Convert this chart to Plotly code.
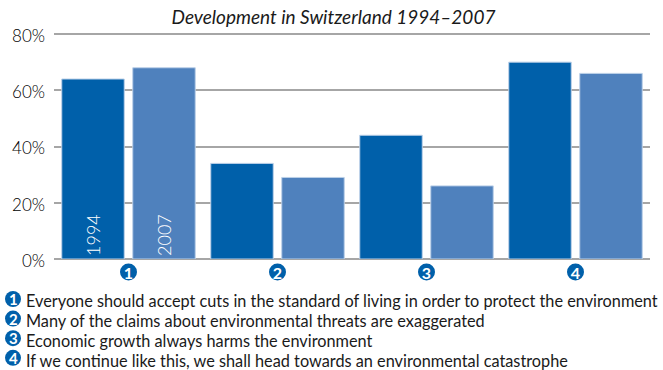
import plotly.graph_objects as go

categories = ["1", "2", "3", "4"]
series_1994 = [64, 34, 44, 70]
series_2007 = [68, 29, 26, 66]
labels_1994 = ["1994", "", "", ""]
labels_2007 = ["2007", "", "", ""]
y_ticks = [0, 20, 40, 60, 80]
y_labels = ["0%", "20%", "40%", "60%", "80%"]
title = "Development in Switzerland 1994–2007"
statements = [
    "Everyone should accept cuts in the standard of living in order to protect the environment",
    "Many of the claims about environmental threats are exaggerated",
    "Economic growth always harms the environment",
    "If we continue like this, we shall head towards an environmental catastrophe",
]

FONT = "Lato"
LIGHTFONT = "Lato Light, Lato"
DARK = "#0060AA"
LIGHT = "#4F81BD"
EDGE = "#BCD0E8"
INK = "#1a1a1a"
BLUE = "#0060AA"
W, H = 663, 370
L, T, PW, PH = 54, 33, 596, 226
BOTTOM = T + PH


def px(x):
    return (x - L) / PW


def py(y):
    return (BOTTOM - y) / PH


fig = go.Figure()
for vals, labs, col in ((series_1994, labels_1994, DARK), (series_2007, labels_2007, LIGHT)):
    fig.add_bar(
        x=categories, y=vals, text=labs,
        marker=dict(color=col, line=dict(color=EDGE, width=1)),
        textposition="inside", insidetextanchor="start", textangle=-90,
        constraintext="none",
        textfont=dict(family=LIGHTFONT, size=18, color="white"),
        hoverinfo="skip",
    )

fig.update_layout(
    width=W, height=H, autosize=False,
    margin=dict(l=L, r=W - L - PW, t=T, b=H - T - PH),
    paper_bgcolor="white", plot_bgcolor="white",
    barmode="group", bargap=0.047, bargroupgap=0.12,
    showlegend=False,
    font=dict(family=FONT, color=INK),
    title=dict(text=f"<i>{title}</i>", x=333.5 / W, xanchor="center", xref="container",
               y=1, yref="container", yanchor="top", pad=dict(t=11),
               font=dict(family=FONT, size=19, color=INK)),
)
fig.update_xaxes(
    type="category", showgrid=False, showline=False, zeroline=False, ticks="",
    ticklabelstandoff=3,
    tickfont=dict(family=FONT, size=16, color="white", weight="bold"),
)
fig.update_yaxes(
    range=[0, 80.36], tickvals=y_ticks, ticktext=y_labels, showgrid=True,
    gridcolor="#A6A6A6", gridwidth=1.5, zeroline=True, zerolinecolor="#A6A6A6", zerolinewidth=1.5,
    showline=False, ticks="", ticklen=0, ticklabelstandoff=8, ticklabelshift=2,
    tickfont=dict(family=LIGHTFONT, size=17, color="#000000"),
)

for i, c in enumerate(categories):
    cx = L + PW * (i + 0.5) / 4
    fig.add_shape(type="circle", xref="paper", yref="paper", layer="below",
                  x0=px(cx - 8.5), x1=px(cx + 8.5), y0=py(272 + 8.5), y1=py(272 - 8.5),
                  fillcolor=BLUE, line_width=0)

for i, s in enumerate(statements):
    yc = 300 + 20 * i
    cy = yc - 1 - 0.4 * i
    fig.add_shape(type="circle", xref="paper", yref="paper", layer="below",
                  x0=px(5), x1=px(21), y0=py(cy + 8), y1=py(cy - 8),
                  fillcolor=BLUE, line_width=0)
    fig.add_annotation(
        xref="paper", yref="paper", x=px(13), y=py(cy),
        xanchor="center", yanchor="middle", showarrow=False,
        text=categories[i], borderpad=0,
        font=dict(family=FONT, size=15, color="white", weight="bold"),
    )
    fig.add_annotation(
        xref="paper", yref="paper", x=px(24), y=py(yc),
        xanchor="left", yanchor="middle", showarrow=False, align="left",
        text=s,
        font=dict(family=FONT, size=16.3, color=INK),
    )
fig.write_html(
    "out.html",
    config={"displayModeBar": False},
    post_script="document.body.style.margin='0';document.documentElement.style.overflow='hidden';",
)
